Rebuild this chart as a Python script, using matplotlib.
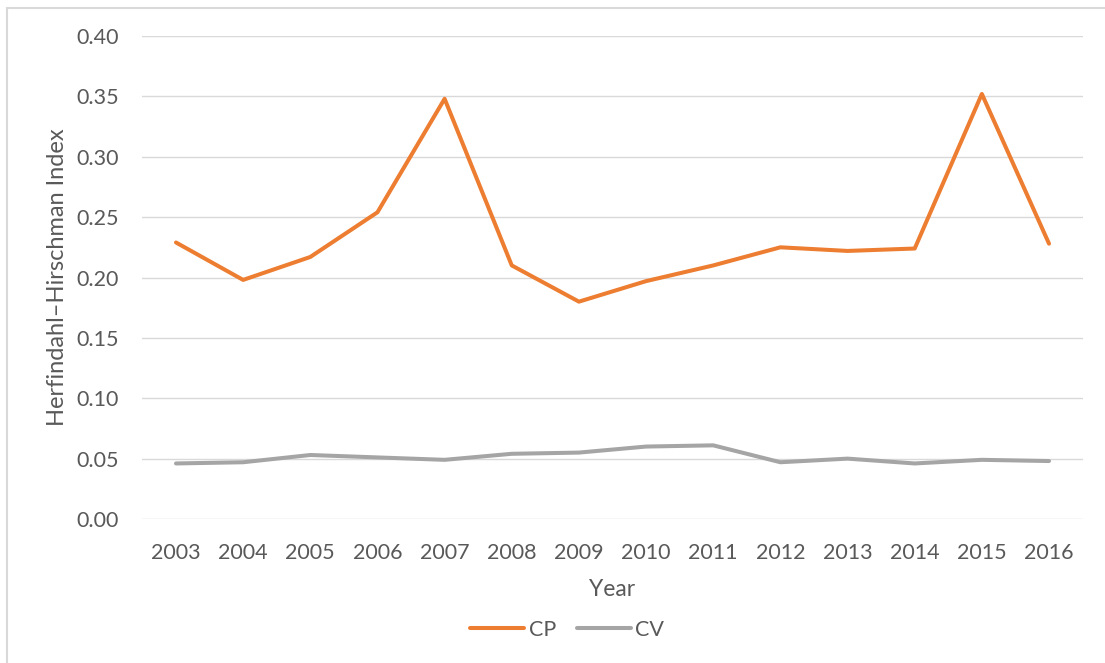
import matplotlib.pyplot as plt
from matplotlib.patches import Rectangle

years = ['2003', '2004', '2005', '2006', '2007', '2008', '2009',
         '2010', '2011', '2012', '2013', '2014', '2015', '2016']
cp = [0.229, 0.198, 0.217, 0.254, 0.348, 0.210, 0.180,
      0.197, 0.210, 0.225, 0.222, 0.224, 0.352, 0.228]
cv = [0.046, 0.047, 0.053, 0.051, 0.049, 0.054, 0.055,
      0.060, 0.061, 0.047, 0.050, 0.046, 0.049, 0.048]
yticks = [0.00, 0.05, 0.10, 0.15, 0.20, 0.25, 0.30, 0.35, 0.40]

plt.rcParams['font.family'] = ['Lato', 'DejaVu Sans']
txt = '#595959'

fig = plt.figure(figsize=(11.05, 6.63), dpi=100)
W, H = 1105, 663
ax = fig.add_axes([142.4 / W, 1 - 519 / H, (1082.6 - 142.4) / W, (519 - 36) / H])

x = list(range(len(years)))
ax.plot(x, cp, color='#ED7D31', lw=2.9, label='CP', solid_joinstyle='round', solid_capstyle='round')
ax.plot(x, cv, color='#A5A5A5', lw=2.9, label='CV', solid_joinstyle='round', solid_capstyle='round')

ax.set_xlim(-0.5, len(years) - 0.5)
ax.set_ylim(0, 0.40)
ax.set_xticks(x)
ax.set_xticklabels(years)
ax.set_yticks(yticks)
ax.set_yticklabels(['%.2f' % v for v in yticks])
ax.tick_params(length=0, labelsize=15.5, colors=txt)
ax.tick_params(axis='x', pad=17)
ax.tick_params(axis='y', pad=17)
ax.grid(axis='y', color='#D9D9D9', lw=1)
ax.set_axisbelow(True)
for s in ax.spines.values():
    s.set_visible(False)

ax.set_xlabel('Year', fontsize=16.5, color=txt, labelpad=12)
ax.set_ylabel('Herfindahl\u2013Hirschman Index', fontsize=17, color=txt, labelpad=6)

leg = ax.legend(loc='center', bbox_to_anchor=(0.452, -0.229), ncol=2, frameon=False,
                fontsize=15.5, handlelength=2.5, handletextpad=0.2, columnspacing=1.0)
for t in leg.get_texts():
    t.set_color(txt)

fig.patches.append(Rectangle((7 / W, -0.05), 1.2, 1 - 8 / H + 0.05, transform=fig.transFigure,
                             fill=False, edgecolor='#D9D9D9', lw=1.5))

fig.savefig('out.png', dpi=100)
